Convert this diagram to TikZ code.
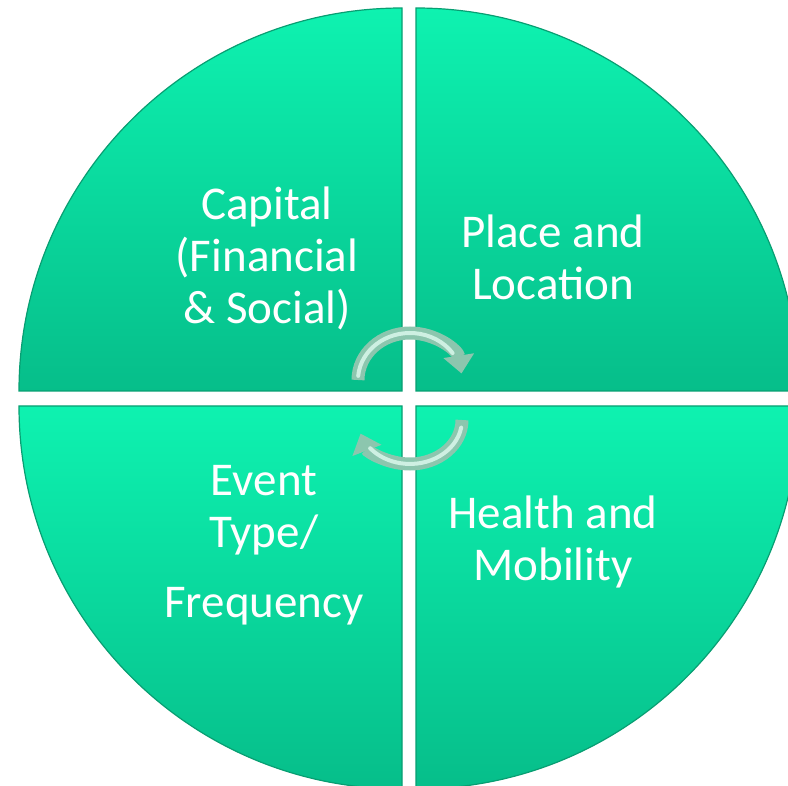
\documentclass[tikz,border=0pt]{standalone}
\usepackage{fontspec}
\setmainfont{Carlito}
\usetikzlibrary{arrows.meta}
\definecolor{quadtop}{RGB}{14,242,176}
\definecolor{quadbot}{RGB}{6,190,138}
\definecolor{quadedge}{RGB}{8,158,114}
\definecolor{arrowbody}{RGB}{140,198,174}
\definecolor{arrowshine}{RGB}{206,240,226}
\begin{document}
\begin{tikzpicture}[x=1pt,y=-1pt,
    quad/.style={top color=quadtop, bottom color=quadbot, draw=quadedge, line width=1.2pt},
    quadtext/.style={text=white, align=center, font=\fontsize{47}{52}\selectfont},
    turn/.style={line width=13pt, draw=arrowbody, -{Triangle[width=30pt,length=18pt]}},
    shine/.style={line width=4pt, draw=arrowshine, line cap=round}]
    % Page size of the picture
    \useasboundingbox (0,0) rectangle (788,786);
    \clip (0,0) rectangle (788,786);

    % Four quarters of the circle
    \path[quad] (402,391) -- (19,391) arc[start angle=180,end angle=270,radius=383] -- cycle; % top left
    \path[quad] (416,391) -- (416,8) arc[start angle=270,end angle=360,radius=383] -- cycle; % top right
    \path[quad] (402,406) -- (402,789) arc[start angle=90,end angle=180,radius=383] -- cycle; % bottom left
    \path[quad] (416,406) -- (799,406) arc[start angle=0,end angle=90,radius=383] -- cycle; % bottom right

    % Labels
    \node[quadtext] (capital) at (267,258) {Capital\\(Financial\\\& Social)};
    \node[quadtext] (place) at (553,257) {Place and\\Location};
    \node[quadtext] (event) at (264,545) {Event\\Type/\\[18pt]Frequency};
    \node[quadtext] (health) at (553,542) {Health and\\Mobility};

    % Upper turning arrow
    \coordinate (upstart) at (358,380);
    \draw[turn] (upstart) arc[start angle=180,end angle=352,x radius=52,y radius=47];
    \draw[shine] (358.2,375.9) arc[start angle=185,end angle=325,x radius=52,y radius=47];

    % Lower turning arrow
    \coordinate (lowstart) at (462,420);
    \draw[turn] (lowstart) arc[start angle=0,end angle=162,x radius=52,y radius=44];
    \draw[shine] (461.2,427.6) arc[start angle=10,end angle=140,x radius=52,y radius=44];
\end{tikzpicture}
\end{document}
